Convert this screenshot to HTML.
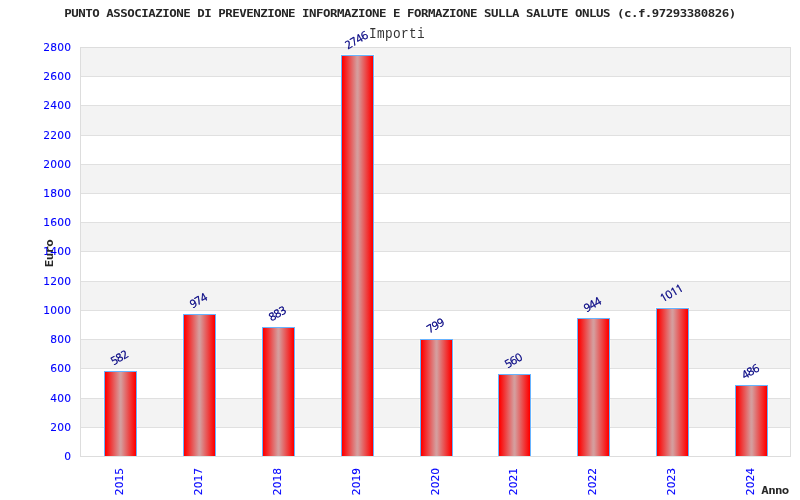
<!DOCTYPE html><html><head><meta charset="utf-8"><style>
html,body{margin:0;padding:0;background:#fff;width:800px;height:500px;overflow:hidden}
svg{display:block;will-change:transform}
.t{font-family:"DejaVu Sans Mono","Liberation Mono",monospace;font-weight:bold;font-size:11.3px;fill:#262626}
.imp{font-family:"Liberation Mono","DejaVu Sans Mono",monospace;font-size:14.5px;fill:#333}
.ax{font-family:"DejaVu Sans","Liberation Sans",sans-serif;font-size:10.67px;fill:#0000ff;stroke:#0000ff;stroke-width:0.1px}
.vl{font-family:"NanumGothic","Liberation Sans",sans-serif;font-size:10.67px;fill:#000080;stroke:#000080;stroke-width:0.35px}
</style></head><body>
<svg width="800" height="500" viewBox="0 0 800 500" shape-rendering="crispEdges">
<defs><linearGradient id="g" x1="0" x2="1" y1="0" y2="0"><stop offset="0.016" stop-color="#ff0000"/><stop offset="0.484" stop-color="#d59d9d"/><stop offset="0.516" stop-color="#d59d9d"/><stop offset="0.984" stop-color="#ff0000"/></linearGradient></defs>
<rect x="0" y="0" width="800" height="500" fill="#fff"/>
<rect x="80" y="47" width="710" height="409" fill="#fff"/>
<rect x="80" y="398" width="710" height="29" fill="#f3f3f3"/>
<rect x="80" y="339" width="710" height="29" fill="#f3f3f3"/>
<rect x="80" y="281" width="710" height="29" fill="#f3f3f3"/>
<rect x="80" y="222" width="710" height="29" fill="#f3f3f3"/>
<rect x="80" y="164" width="710" height="29" fill="#f3f3f3"/>
<rect x="80" y="105" width="710" height="30" fill="#f3f3f3"/>
<rect x="80" y="47" width="710" height="29" fill="#f3f3f3"/>
<rect x="103" y="398" width="1" height="29" fill="#fcf9f4"/>
<rect x="137" y="398" width="1" height="29" fill="#fcf9f4"/>
<rect x="182" y="398" width="1" height="29" fill="#fcf9f4"/>
<rect x="182" y="339" width="1" height="29" fill="#fcf9f4"/>
<rect x="216" y="398" width="1" height="29" fill="#fcf9f4"/>
<rect x="216" y="339" width="1" height="29" fill="#fcf9f4"/>
<rect x="261" y="398" width="1" height="29" fill="#fcf9f4"/>
<rect x="261" y="339" width="1" height="29" fill="#fcf9f4"/>
<rect x="295" y="398" width="1" height="29" fill="#fcf9f4"/>
<rect x="295" y="339" width="1" height="29" fill="#fcf9f4"/>
<rect x="340" y="398" width="1" height="29" fill="#fcf9f4"/>
<rect x="340" y="339" width="1" height="29" fill="#fcf9f4"/>
<rect x="340" y="281" width="1" height="29" fill="#fcf9f4"/>
<rect x="340" y="222" width="1" height="29" fill="#fcf9f4"/>
<rect x="340" y="164" width="1" height="29" fill="#fcf9f4"/>
<rect x="340" y="105" width="1" height="30" fill="#fcf9f4"/>
<rect x="340" y="54" width="1" height="22" fill="#fcf9f4"/>
<rect x="374" y="398" width="1" height="29" fill="#fcf9f4"/>
<rect x="374" y="339" width="1" height="29" fill="#fcf9f4"/>
<rect x="374" y="281" width="1" height="29" fill="#fcf9f4"/>
<rect x="374" y="222" width="1" height="29" fill="#fcf9f4"/>
<rect x="374" y="164" width="1" height="29" fill="#fcf9f4"/>
<rect x="374" y="105" width="1" height="30" fill="#fcf9f4"/>
<rect x="374" y="54" width="1" height="22" fill="#fcf9f4"/>
<rect x="340" y="54" width="35" height="1" fill="#fcf9f4"/>
<rect x="419" y="398" width="1" height="29" fill="#fcf9f4"/>
<rect x="419" y="339" width="1" height="29" fill="#fcf9f4"/>
<rect x="453" y="398" width="1" height="29" fill="#fcf9f4"/>
<rect x="453" y="339" width="1" height="29" fill="#fcf9f4"/>
<rect x="497" y="398" width="1" height="29" fill="#fcf9f4"/>
<rect x="531" y="398" width="1" height="29" fill="#fcf9f4"/>
<rect x="576" y="398" width="1" height="29" fill="#fcf9f4"/>
<rect x="576" y="339" width="1" height="29" fill="#fcf9f4"/>
<rect x="610" y="398" width="1" height="29" fill="#fcf9f4"/>
<rect x="610" y="339" width="1" height="29" fill="#fcf9f4"/>
<rect x="655" y="398" width="1" height="29" fill="#fcf9f4"/>
<rect x="655" y="339" width="1" height="29" fill="#fcf9f4"/>
<rect x="655" y="307" width="1" height="3" fill="#fcf9f4"/>
<rect x="689" y="398" width="1" height="29" fill="#fcf9f4"/>
<rect x="689" y="339" width="1" height="29" fill="#fcf9f4"/>
<rect x="689" y="307" width="1" height="3" fill="#fcf9f4"/>
<rect x="655" y="307" width="35" height="1" fill="#fcf9f4"/>
<rect x="734" y="398" width="1" height="29" fill="#fcf9f4"/>
<rect x="768" y="398" width="1" height="29" fill="#fcf9f4"/>
<rect x="80" y="427" width="710" height="1" fill="#e0e0e0"/>
<rect x="80" y="398" width="710" height="1" fill="#e0e0e0"/>
<rect x="80" y="368" width="710" height="1" fill="#e0e0e0"/>
<rect x="80" y="339" width="710" height="1" fill="#e0e0e0"/>
<rect x="80" y="310" width="710" height="1" fill="#e0e0e0"/>
<rect x="80" y="281" width="710" height="1" fill="#e0e0e0"/>
<rect x="80" y="251" width="710" height="1" fill="#e0e0e0"/>
<rect x="80" y="222" width="710" height="1" fill="#e0e0e0"/>
<rect x="80" y="193" width="710" height="1" fill="#e0e0e0"/>
<rect x="80" y="164" width="710" height="1" fill="#e0e0e0"/>
<rect x="80" y="135" width="710" height="1" fill="#e0e0e0"/>
<rect x="80" y="105" width="710" height="1" fill="#e0e0e0"/>
<rect x="80" y="76" width="710" height="1" fill="#e0e0e0"/>
<rect x="80.5" y="47.5" width="710" height="409" fill="none" stroke="#dddddd" stroke-width="1"/>
<rect x="105" y="372" width="31" height="84" fill="url(#g)"/>
<rect x="104" y="371" width="33" height="1" fill="#66b3ff"/>
<rect x="104" y="371" width="1" height="85" fill="#66b3ff"/>
<rect x="136" y="371" width="1" height="85" fill="#66b3ff"/>
<rect x="105" y="456" width="31" height="1" fill="#dfe6e6"/>
<rect x="184" y="315" width="31" height="141" fill="url(#g)"/>
<rect x="183" y="314" width="33" height="1" fill="#66b3ff"/>
<rect x="183" y="314" width="1" height="142" fill="#66b3ff"/>
<rect x="215" y="314" width="1" height="142" fill="#66b3ff"/>
<rect x="184" y="456" width="31" height="1" fill="#dfe6e6"/>
<rect x="263" y="328" width="31" height="128" fill="url(#g)"/>
<rect x="262" y="327" width="33" height="1" fill="#66b3ff"/>
<rect x="262" y="327" width="1" height="129" fill="#66b3ff"/>
<rect x="294" y="327" width="1" height="129" fill="#66b3ff"/>
<rect x="263" y="456" width="31" height="1" fill="#dfe6e6"/>
<rect x="342" y="56" width="31" height="400" fill="url(#g)"/>
<rect x="341" y="55" width="33" height="1" fill="#66b3ff"/>
<rect x="341" y="55" width="1" height="401" fill="#66b3ff"/>
<rect x="373" y="55" width="1" height="401" fill="#66b3ff"/>
<rect x="342" y="456" width="31" height="1" fill="#dfe6e6"/>
<rect x="421" y="340" width="31" height="116" fill="url(#g)"/>
<rect x="420" y="339" width="33" height="1" fill="#66b3ff"/>
<rect x="420" y="339" width="1" height="117" fill="#66b3ff"/>
<rect x="452" y="339" width="1" height="117" fill="#66b3ff"/>
<rect x="421" y="456" width="31" height="1" fill="#dfe6e6"/>
<rect x="499" y="375" width="31" height="81" fill="url(#g)"/>
<rect x="498" y="374" width="33" height="1" fill="#66b3ff"/>
<rect x="498" y="374" width="1" height="82" fill="#66b3ff"/>
<rect x="530" y="374" width="1" height="82" fill="#66b3ff"/>
<rect x="499" y="456" width="31" height="1" fill="#dfe6e6"/>
<rect x="578" y="319" width="31" height="137" fill="url(#g)"/>
<rect x="577" y="318" width="33" height="1" fill="#66b3ff"/>
<rect x="577" y="318" width="1" height="138" fill="#66b3ff"/>
<rect x="609" y="318" width="1" height="138" fill="#66b3ff"/>
<rect x="578" y="456" width="31" height="1" fill="#dfe6e6"/>
<rect x="657" y="309" width="31" height="147" fill="url(#g)"/>
<rect x="656" y="308" width="33" height="1" fill="#66b3ff"/>
<rect x="656" y="308" width="1" height="148" fill="#66b3ff"/>
<rect x="688" y="308" width="1" height="148" fill="#66b3ff"/>
<rect x="657" y="456" width="31" height="1" fill="#dfe6e6"/>
<rect x="736" y="386" width="31" height="70" fill="url(#g)"/>
<rect x="735" y="385" width="33" height="1" fill="#66b3ff"/>
<rect x="735" y="385" width="1" height="71" fill="#66b3ff"/>
<rect x="767" y="385" width="1" height="71" fill="#66b3ff"/>
<rect x="736" y="456" width="31" height="1" fill="#dfe6e6"/>
<text class="ax" x="64.3" y="460">0</text>
<text class="ax" x="50.3 57.3 64.3" y="431">200</text>
<text class="ax" x="50.3 57.3 64.3" y="402">400</text>
<text class="ax" x="50.3 57.3 64.3" y="372">600</text>
<text class="ax" x="50.3 57.3 64.3" y="343">800</text>
<text class="ax" x="43.3 50.3 57.3 64.3" y="314">1000</text>
<text class="ax" x="43.3 50.3 57.3 64.3" y="285">1200</text>
<text class="ax" x="43.3 50.3 57.3 64.3" y="255">1400</text>
<text class="ax" x="43.3 50.3 57.3 64.3" y="226">1600</text>
<text class="ax" x="43.3 50.3 57.3 64.3" y="197">1800</text>
<text class="ax" x="43.3 50.3 57.3 64.3" y="168">2000</text>
<text class="ax" x="43.3 50.3 57.3 64.3" y="139">2200</text>
<text class="ax" x="43.3 50.3 57.3 64.3" y="109">2400</text>
<text class="ax" x="43.3 50.3 57.3 64.3" y="80">2600</text>
<text class="ax" x="43.3 50.3 57.3 64.3" y="51">2800</text>
<text class="ax" transform="translate(123.4,468) rotate(-90)" text-anchor="end">2015</text>
<text class="ax" transform="translate(202.4,468) rotate(-90)" text-anchor="end">2017</text>
<text class="ax" transform="translate(281.4,468) rotate(-90)" text-anchor="end">2018</text>
<text class="ax" transform="translate(360.4,468) rotate(-90)" text-anchor="end">2019</text>
<text class="ax" transform="translate(439.4,468) rotate(-90)" text-anchor="end">2020</text>
<text class="ax" transform="translate(517.4,468) rotate(-90)" text-anchor="end">2021</text>
<text class="ax" transform="translate(596.4,468) rotate(-90)" text-anchor="end">2022</text>
<text class="ax" transform="translate(675.4,468) rotate(-90)" text-anchor="end">2023</text>
<text class="ax" transform="translate(754.4,468) rotate(-90)" text-anchor="end">2024</text>
<text class="vl" transform="translate(121.2,361.1) rotate(-30)" x="-9.0 -3.0 3.0">582</text>
<text class="vl" transform="translate(200.2,304.1) rotate(-30)" x="-9.0 -3.0 3.0">974</text>
<text class="vl" transform="translate(279.2,317.1) rotate(-30)" x="-9.0 -3.0 3.0">883</text>
<text class="vl" transform="translate(358.2,43.6) rotate(-30)" x="-12.0 -6.0 0.0 6.0">2746</text>
<text class="vl" transform="translate(437.2,329.1) rotate(-30)" x="-9.0 -3.0 3.0">799</text>
<text class="vl" transform="translate(515.2,364.1) rotate(-30)" x="-9.0 -3.0 3.0">560</text>
<text class="vl" transform="translate(594.2,308.1) rotate(-30)" x="-9.0 -3.0 3.0">944</text>
<text class="vl" transform="translate(673.2,296.6) rotate(-30)" x="-12.0 -6.0 0.0 6.0">1011</text>
<text class="vl" transform="translate(752.2,375.1) rotate(-30)" x="-9.0 -3.0 3.0">486</text>
<text class="t" transform="translate(64.3,17) scale(1.1,1)" textLength="610.9" lengthAdjust="spacing">PUNTO ASSOCIAZIONE DI PREVENZIONE INFORMAZIONE E FORMAZIONE SULLA SALUTE ONLUS (c.f.97293380826)</text>
<text class="imp" transform="translate(369.0,38) scale(0.88,1)" x="0.00 9.09 18.18 27.27 36.36 45.45 54.55">Importi</text>
<text class="t" transform="translate(761.3,494) scale(1.1,1)" textLength="25.45" lengthAdjust="spacing">Anno</text>
<text class="t" transform="translate(53,267.2) rotate(-90) scale(1.1,1)" textLength="25.45" lengthAdjust="spacing">Euro</text>
</svg></body></html>
